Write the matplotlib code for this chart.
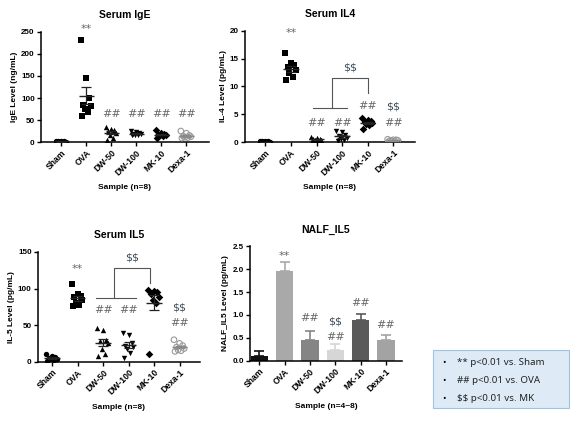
import numpy as np
import matplotlib
matplotlib.use("Agg")
import matplotlib.pyplot as plt
from matplotlib.patches import Rectangle

plt.rcParams["font.family"] = ["Liberation Sans", "DejaVu Sans"]
plt.rcParams["text.parse_math"] = False

groups = ["Sham", "OVA", "DW-50", "DW-100", "MK-10", "Dexa-1"]

# individual animal values
ige_values = [
    [2, 1.5, 1, 1, 0.5, 2, 1, 1.5],
    [232, 145, 100, 85, 82, 75, 68, 58],
    [35, 30, 28, 25, 20, 15, 10, 5],
    [25, 22, 20, 19, 18, 17, 16, 15],
    [27, 20, 18, 17, 16, 15, 13, 10],
    [25, 20, 15, 13, 12, 11, 10, 9],
]
il4_values = [
    [0.1, 0.05, 0.1, 0.0, 0.1, 0.05, 0.1, 0.05],
    [16.0, 14.3, 13.8, 13.5, 13.0, 12.4, 11.8, 11.1],
    [0.9, 0.8, 0.6, 0.5, 0.4, 0.3, 0.3, 0.2],
    [2.0, 1.8, 1.3, 1.0, 0.8, 0.6, 0.4, 0.2],
    [4.3, 4.0, 3.8, 3.6, 3.4, 3.2, 3.0, 2.3],
    [0.5, 0.4, 0.4, 0.3, 0.3, 0.2, 0.2, 0.1],
]
il5_values = [
    [10, 8, 6, 5, 4, 3, 2, 1],
    [106, 93, 90, 88, 85, 80, 78, 76],
    [46, 43, 30, 28, 25, 18, 10, 8],
    [39, 37, 25, 22, 20, 18, 12, 5],
    [98, 96, 95, 92, 88, 85, 80, 11],
    [30, 25, 22, 20, 18, 16, 15, 14],
]
# NALF IL5: mean and SEM bars
nalf_mean = [0.10, 1.96, 0.46, 0.23, 0.89, 0.45]
nalf_sem = [0.11, 0.19, 0.19, 0.13, 0.14, 0.12]

legend_lines = ["** p<0.01 vs. Sham", "## p<0.01 vs. OVA", "$$ p<0.01 vs. MK"]

MARKERS = ["o", "s", "^", "v", "D", "o"]
GREY_TXT = "#666666"
DOLLAR = "#3f4d5a"
BAR_COLORS = ["#111111", "#a9a9a9", "#858585", "#d6d6d6", "#5a5a5a", "#a3a3a3"]


def style_axes(ax, title, ylabel, xlabel, ylim, yticks, xlim, fmt=None):
    ax.set_xlim(*xlim)
    ax.set_ylim(*ylim)
    ax.set_yticks(yticks)
    if fmt:
        ax.set_yticklabels([fmt % t for t in yticks])
    ax.set_xticks(range(len(groups)))
    ax.set_xticklabels(groups, rotation=45, ha="right", rotation_mode="anchor",
                       fontsize=6.2, fontweight="bold")
    for lab in ax.get_yticklabels():
        lab.set_fontsize(5.8)
        lab.set_fontweight("bold")
    ax.spines["top"].set_visible(False)
    ax.spines["right"].set_visible(False)
    for s in ("left", "bottom"):
        ax.spines[s].set_linewidth(1.1)
    ax.tick_params(axis="both", width=1.0, length=3, pad=1.5)
    ax.set_title(title, fontsize=7.5, fontweight="bold", pad=10)
    ax.set_ylabel(ylabel, fontsize=6, fontweight="bold", labelpad=2)
    ax.set_xlabel(xlabel, fontsize=6, fontweight="bold", labelpad=5)


def spread(n):
    # spread sorted points sideways so they don't overlap
    base = np.array([-0.18, 0.06, -0.06, 0.18, -0.12, 0.12, 0.0, -0.22, 0.22])
    return base[:n]


def dot_plot(ax, values):
    for i, vals in enumerate(values):
        vals = np.sort(np.asarray(vals, float))
        xs = i + spread(len(vals))
        if i == 5:
            ax.scatter(xs, vals, s=16, marker="o", facecolors="none",
                       edgecolors="#9a9a9a", linewidths=0.8, zorder=3)
            c = "#8a8a8a"
        else:
            ax.scatter(xs, vals, s=15, marker=MARKERS[i], color="black",
                       linewidths=0, zorder=3)
            c = "#222222"
        m = vals.mean()
        sem = vals.std(ddof=1) / np.sqrt(len(vals))
        ax.hlines(m, i - 0.3, i + 0.3, color=c, lw=1.0, zorder=4)
        ax.errorbar(i, m, yerr=sem, color=c, lw=0.9, capsize=3.5,
                    capthick=0.9, zorder=4)


def mark(ax, x, y, txt, color=GREY_TXT, size=8):
    ax.text(x, y, txt, ha="center", va="center", fontsize=size, color=color,
            family=["DejaVu Sans"], clip_on=False)


def bracket(ax, x0, x1, xm, y_low, y_top, x_end, y_end):
    kw = dict(color="#555555", lw=0.8, clip_on=False)
    ax.plot([x0, x1], [y_low, y_low], **kw)
    ax.plot([xm, xm, x_end, x_end], [y_low, y_top, y_top, y_end], **kw)


fig = plt.figure(figsize=(5.79, 4.21), dpi=100)

# Serum IgE
ax1 = fig.add_axes([0.0708, 0.6627, 0.290, 0.2613])
dot_plot(ax1, ige_values)
style_axes(ax1, "Serum IgE", "IgE Level (ng/mL)", "Sample (n=8)",
           (0, 250), [0, 50, 100, 150, 200, 250], (-0.8, 5.9))
mark(ax1, 1, 257, "**")
for i in [2, 3, 4, 5]:
    mark(ax1, i, 64, "##")

# Serum IL4
ax2 = fig.add_axes([0.4231, 0.6627, 0.2936, 0.2637])
dot_plot(ax2, il4_values)
style_axes(ax2, "Serum IL4", "IL-4 Level (pg/mL)", "Sample (n=8)",
           (0, 20), [0, 5, 10, 15, 20], (-0.8, 5.85))
mark(ax2, 1, 19.6, "**")
mark(ax2, 2, 3.5, "##")
mark(ax2, 3, 3.5, "##")
mark(ax2, 4, 6.4, "##")
mark(ax2, 5, 3.5, "##")
mark(ax2, 5, 6.4, "$$", color=DOLLAR)
bracket(ax2, 1.85, 3.2, 2.6, 6.1, 11.6, 4.0, 8.9)
mark(ax2, 3.3, 13.5, "$$", color=DOLLAR)

# Serum IL5
ax3 = fig.add_axes([0.0656, 0.1409, 0.2798, 0.2606])
dot_plot(ax3, il5_values)
style_axes(ax3, "Serum IL5", "IL-5 Level (pg/mL)", "Sample (n=8)",
           (0, 150), [0, 50, 100, 150], (-0.55, 5.8))
mark(ax3, 1, 127, "**")
mark(ax3, 2, 71, "##")
mark(ax3, 3, 71, "##")
mark(ax3, 5, 53, "##")
mark(ax3, 5, 74, "$$", color=DOLLAR)
bracket(ax3, 1.73, 3.3, 2.43, 87, 128, 3.85, 108)
mark(ax3, 3.15, 142, "$$", color=DOLLAR)

# NALF IL5
ax4 = fig.add_axes([0.4318, 0.1437, 0.2625, 0.2708])
x = np.arange(len(groups))
ax4.bar(x, nalf_mean, width=0.68, color=BAR_COLORS, zorder=2)
for i in range(len(groups)):
    ax4.errorbar(i, nalf_mean[i], yerr=[[0], [nalf_sem[i]]], color=BAR_COLORS[i],
                 lw=1.2, capsize=3.5, capthick=1.2, zorder=1)
style_axes(ax4, "NALF_IL5", "NALF_IL5 Level (pg/mL)", "Sample (n=4~8)",
           (0, 2.5), [0.0, 0.5, 1.0, 1.5, 2.0, 2.5], (-0.36, 5.63), fmt="%.1f")
mark(ax4, 1, 2.3, "**")
mark(ax4, 2, 0.93, "##")
mark(ax4, 3, 0.52, "##")
mark(ax4, 3, 0.86, "$$", color=DOLLAR)
mark(ax4, 4, 1.27, "##")
mark(ax4, 5, 0.78, "##")

# significance legend box
fig.patches.append(Rectangle((0.748, 0.031), 0.235, 0.138, transform=fig.transFigure,
                             facecolor="#deebf7", edgecolor="#9dc3e6", lw=0.8))
for k, line in enumerate(legend_lines):
    yy = 0.140 - k * 0.0428
    fig.text(0.763, yy, "•", fontsize=6.5, va="center", family=["Noto Sans"])
    fig.text(0.789, yy, line, fontsize=7, va="center", family=["Noto Sans"],
             color="#222222")

fig.savefig("out.png", dpi=100)
